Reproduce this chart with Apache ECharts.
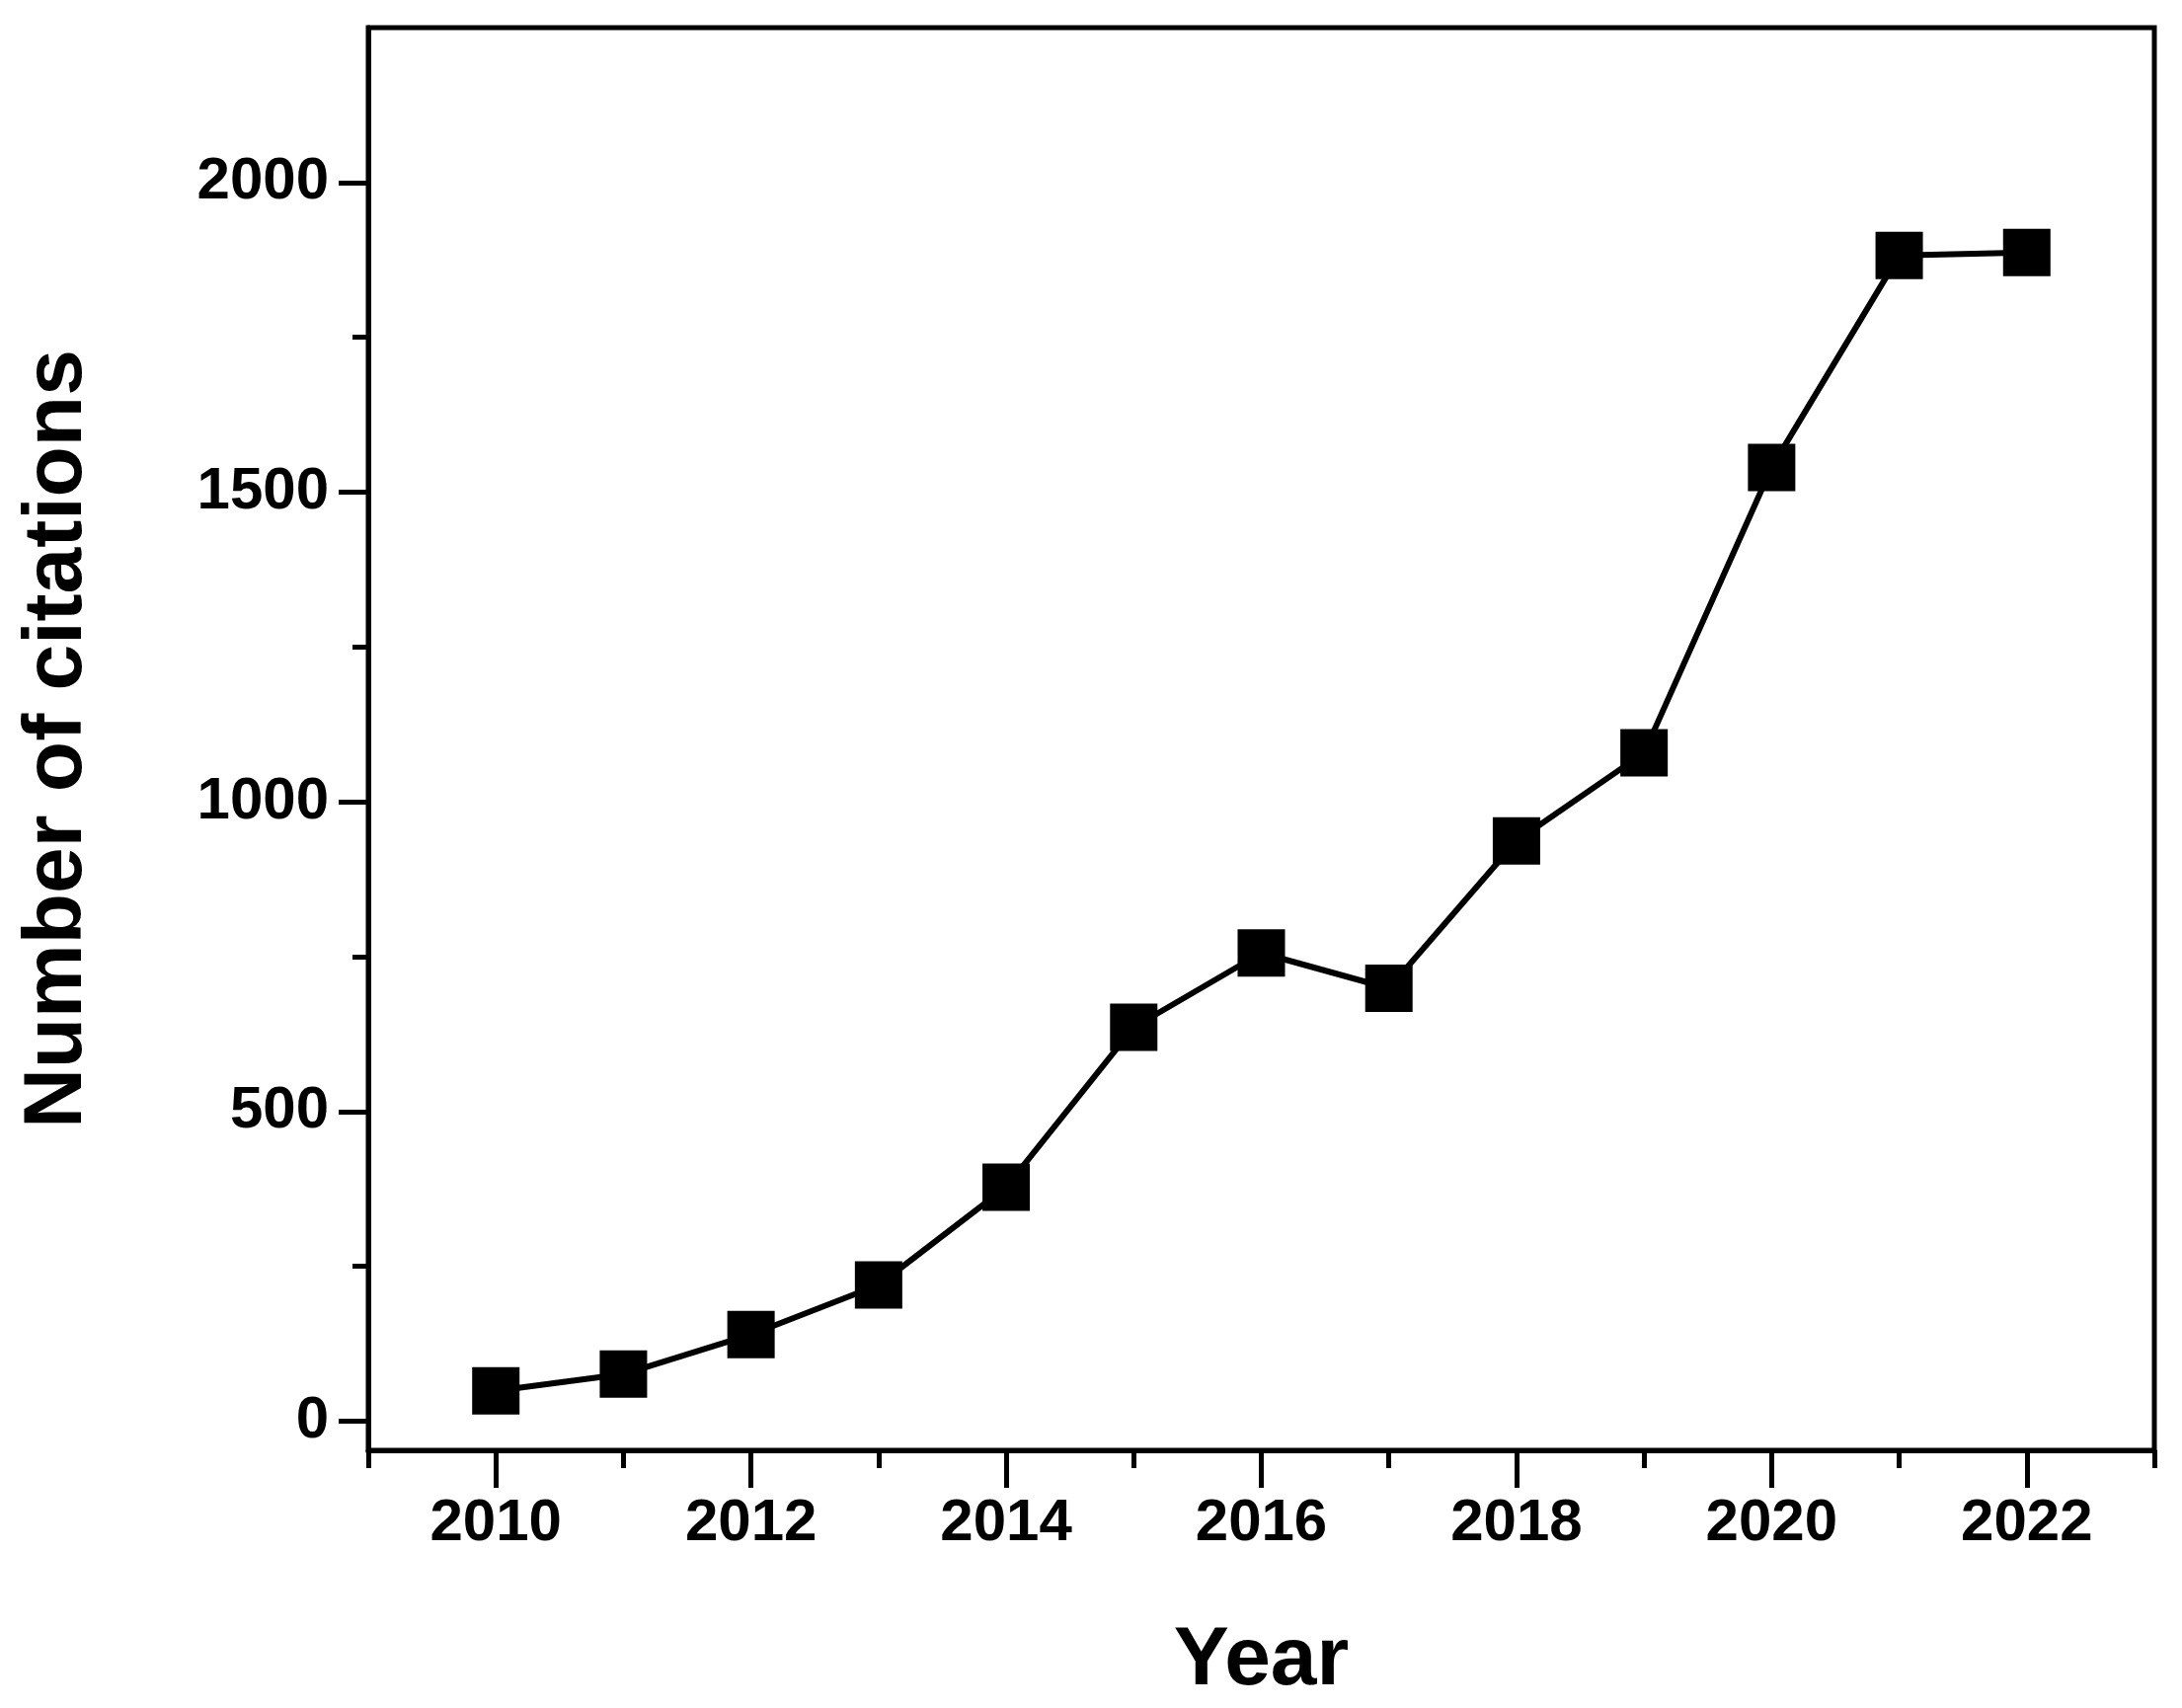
<!DOCTYPE html>
<html><head><meta charset="utf-8">
<script src="https://cdn.jsdelivr.net/npm/echarts@6/dist/echarts.min.js"></script>
<style>html,body{margin:0;background:#fff}#c{width:2210px;height:1730px}</style>
</head><body><div id="c"></div>
<script>
const years = [2010,2011,2012,2013,2014,2015,2016,2017,2018,2019,2020,2021,2022];
const citations = [49,76,140,220,378,636,756,699,937,1079,1540,1882,1887];
const xMajor = [2010,2012,2014,2016,2018,2020,2022];
const xMinor = [2009,2011,2013,2015,2017,2019,2021,2023];
const yMajor = [0,500,1000,1500,2000];
const yMinor = [250,750,1250,1750];

const font = 'Liberation Sans, Arial, sans-serif';
const lineS = {color:'#000', width:5};
const plain = v => String(v);
let chart = echarts.init(document.getElementById('c'));
chart.setOption({
  animation:false,
  grid:{left:373,right:28,top:28,bottom:238,show:true,borderColor:'#000',borderWidth:5},
  xAxis:[{
    type:'value',min:2009,max:2023,
    name:'Year',nameLocation:'middle',nameGap:172,
    nameTextStyle:{fontFamily:font,fontWeight:'bold',fontSize:84,color:'#000'},
    axisLine:{onZero:false,lineStyle:lineS},
    axisTick:{customValues:xMajor,length:38,lineStyle:lineS},
    axisLabel:{customValues:xMajor,formatter:plain,margin:44,fontFamily:font,fontWeight:'bold',fontSize:60,color:'#000'},
    splitLine:{show:false}
  },{
    type:'value',min:2009,max:2023,position:'bottom',
    axisLine:{show:false,onZero:false},
    axisTick:{customValues:xMinor,length:18,lineStyle:lineS},
    axisLabel:{show:false},splitLine:{show:false}
  }],
  yAxis:[{
    type:'value',min:-47,max:2250,
    name:'Number of citations',nameLocation:'middle',nameGap:272,
    nameTextStyle:{fontFamily:font,fontWeight:'bold',fontSize:84,color:'#000'},
    axisLine:{show:true,onZero:false,lineStyle:lineS},
    axisTick:{show:true,customValues:yMajor,length:30,lineStyle:lineS},
    axisLabel:{customValues:yMajor,formatter:plain,margin:40,fontFamily:font,fontWeight:'bold',fontSize:60,color:'#000'},
    splitLine:{show:false}
  },{
    type:'value',min:-47,max:2250,position:'left',
    axisLine:{show:false,onZero:false},
    axisTick:{show:true,customValues:yMinor,length:16,lineStyle:lineS},
    axisLabel:{show:false},splitLine:{show:false}
  }],
  series:[{
    type:'line',
    data:years.map((y,i)=>[y,citations[i]]),
    symbol:'rect',symbolSize:48,
    itemStyle:{color:'#000'},
    lineStyle:{color:'#000',width:6}
  }]
});
</script></body></html>
